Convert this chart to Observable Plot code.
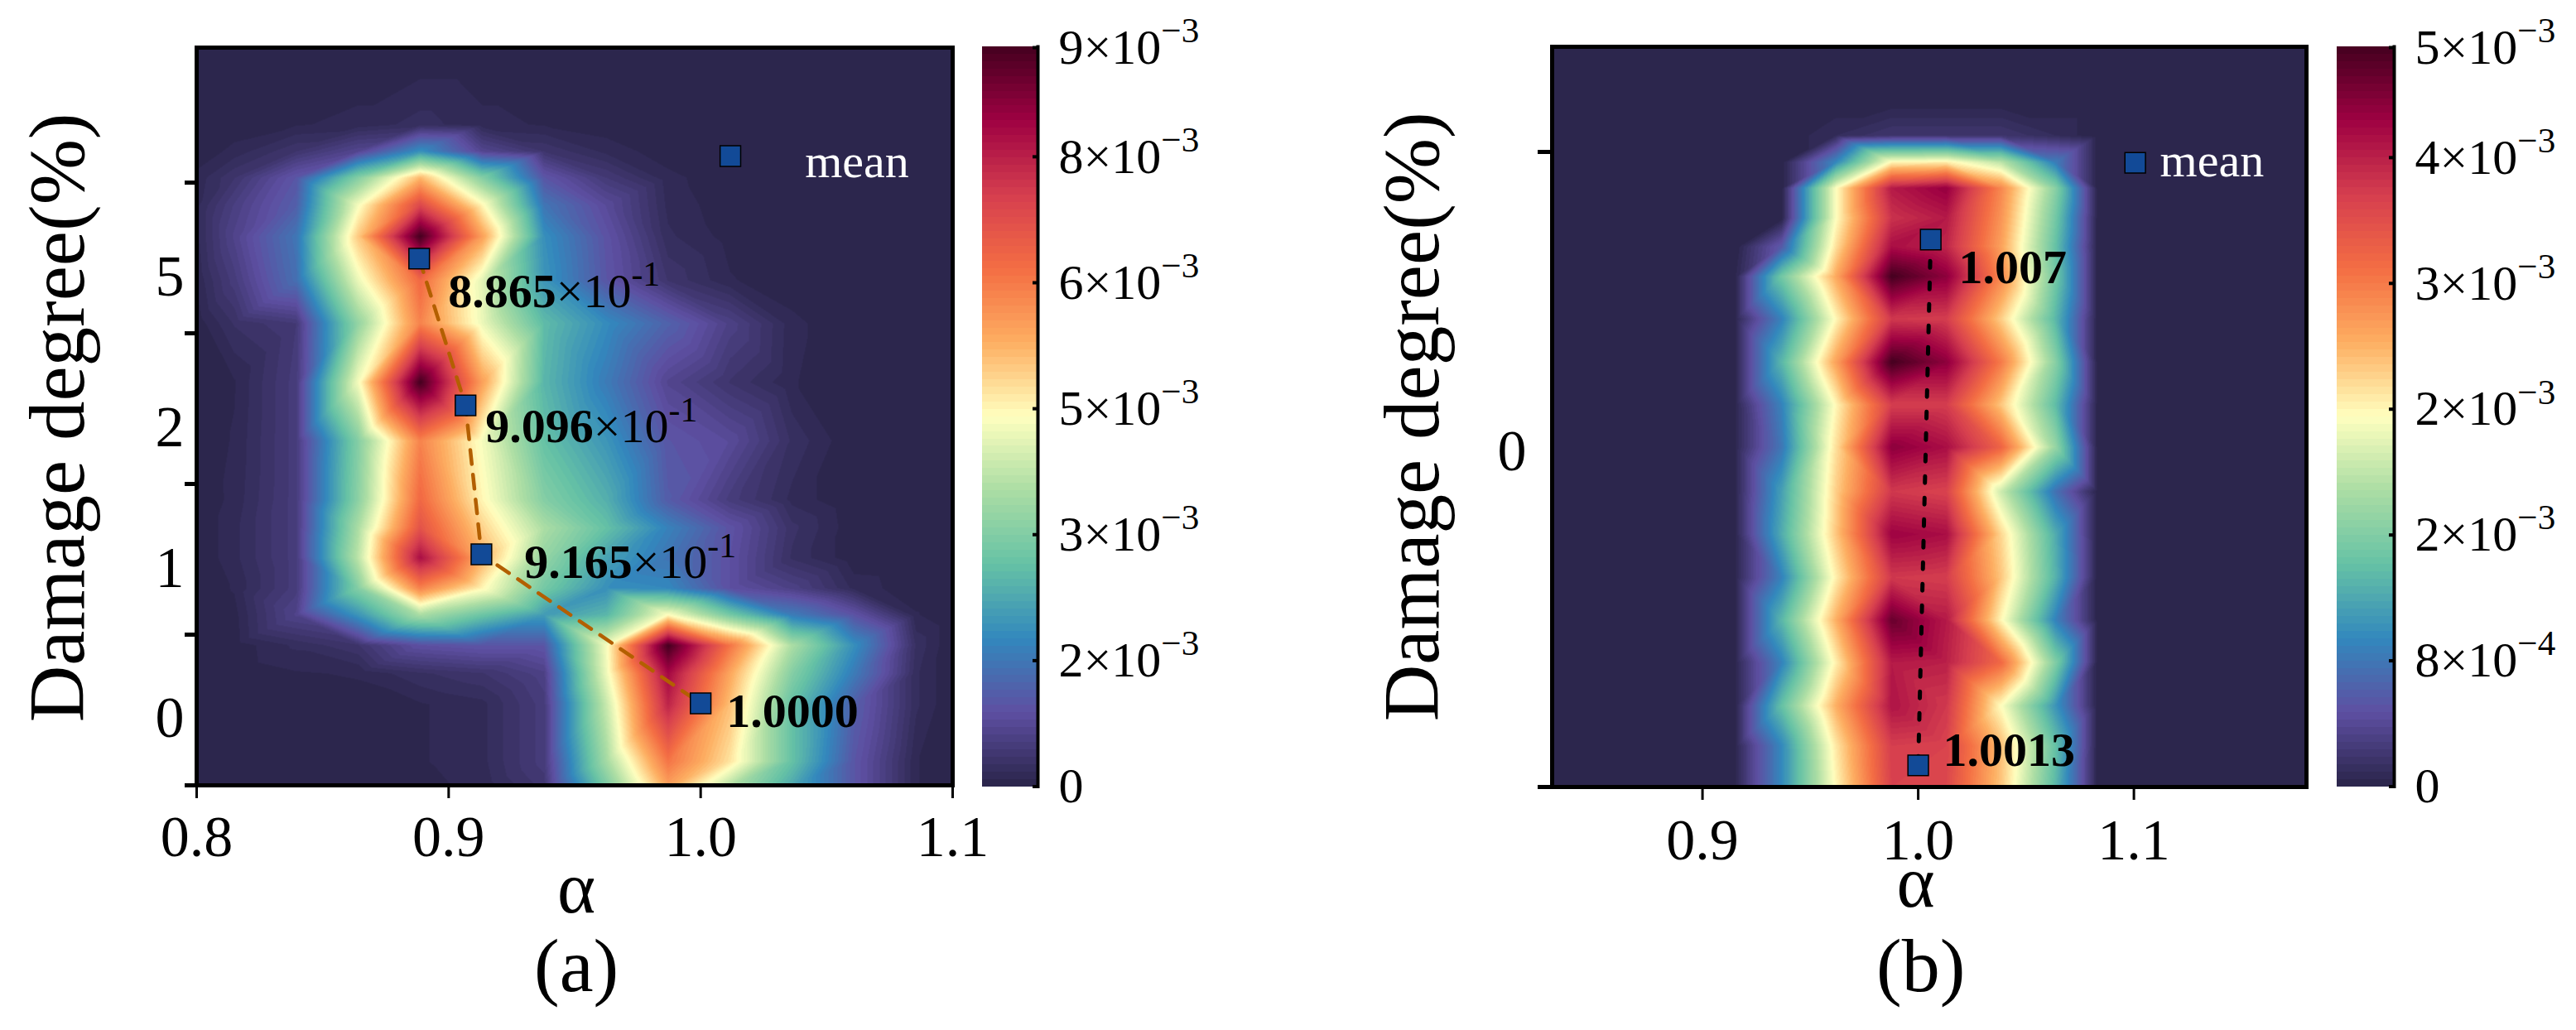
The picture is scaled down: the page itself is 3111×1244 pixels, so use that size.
<!DOCTYPE html>
<html>
<head>
<meta charset="utf-8">
<script src="https://cdn.jsdelivr.net/npm/d3@7"></script>
<script src="https://cdn.jsdelivr.net/npm/@observablehq/plot@0.6"></script>
<style>
html,body{margin:0;padding:0;background:#fff;width:3111px;height:1244px;overflow:hidden}
svg{position:absolute;top:0;overflow:visible;font-family:"Liberation Serif",serif}
</style>
</head>
<body>
<script>
// ---------- panel (a): density ----------
const alphaA = [.8,.8149,.8395,.8641,.8887,.9133,.9379,.9625,.9871,1.0117,1.0363,1.0609,1.0855,1.1];
const levelA = [4.896,4.385,4.209,4.033,3.852,3.643,3.352,3.066,2.676,2.286,1.896,1.709,1.511,1.308,1.132,.929,.742,.538,.159,0];
const densityA = [
 [0,0,0,0,0,0,0,0,0,0,0,0,0,0],
 [0,.03,.08,.12,.22,.12,.08,.03,0,0,0,0,0,0],
 [.02,.12,.35,.7,1.9,.7,.35,.15,.03,0,0,0,0,0],
 [.12,.35,1.0,3.1,5.3,3.1,1.0,.45,.12,.02,0,0,0,0],
 [.15,.55,1.15,4.4,7.0,4.6,1.5,.8,.15,.03,0,0,0,0],
 [.15,.65,1.5,5.1,9.0,5.6,1.9,.95,.2,.05,0,0,0,0],
 [.1,.5,1.4,4.3,6.4,4.2,2.0,1.0,.35,.1,.02,0,0,0],
 [.03,.28,.45,3.3,6.0,4.3,2.6,1.85,1.2,.6,.12,0,0,0],
 [.02,.08,.5,4.4,9.0,5.6,2.5,1.6,.7,.35,.1,0,0,0],
 [.02,.1,.5,3.1,6.0,4.4,2.7,2.0,1.0,.8,.25,0,0,0],
 [.01,.12,.5,3.2,6.4,4.6,3.1,2.4,1.1,.5,.15,0,0,0],
 [.01,.15,.5,3.6,6.8,5.0,3.6,2.7,1.7,.95,.3,.02,0,0],
 [.01,.15,.5,3.8,7.9,5.4,3.3,2.2,1.5,.9,.25,.02,0,0],
 [.01,.1,.5,3.1,6.0,4.6,2.9,1.9,1.8,.9,.6,.15,.02,0],
 [0,.05,.65,2.0,3.6,2.8,2.1,2.5,4.5,2.9,1.6,.95,.1,0],
 [0,.03,.2,.35,.9,1.0,1.0,4.4,9.0,6.2,3.6,1.9,.25,0],
 [0,.02,.08,.1,.25,.35,.6,4.3,8.0,5.5,3.1,1.6,.2,0],
 [0,.01,.03,.05,.08,.15,.5,3.9,7.6,5.2,2.7,1.15,.2,0],
 [0,0,.01,.03,.08,.15,.5,3.5,6.2,4.8,2.7,1.0,.1,0],
 [0,0,.01,.03,.06,.12,.4,3.0,5.6,3.7,2.3,1.0,.1,0]
];
const meansA = [{a:.8883,l:3.495},{a:.9067,l:2.522},{a:.913,l:1.533},{a:1.0,l:.544}];
const legendA = [{a:1.0118,l:4.176}];
const notesA = [
 {a:.8998,l:3.176,t:"8.865|×10^-1"},
 {a:.9146,l:2.275,t:"9.096|×10^-1"},
 {a:.93,l:1.374,t:"9.165|×10^-1"},
 {a:1.0102,l:.39,t:"1.0000|"}
];
const meanLabelA = [{a:1.0414,l:4.038,t:"mean"}];
const yTicksA = [0,1,2,3,4];
const yLabelsA = [{l:.445,t:"0"},{l:1.44,t:"1"},{l:2.374,t:"2"},{l:3.374,t:"5"}];
const xTicksA = [.8,.9,1.0,1.1];
const barMaxA = 8.81;
const barTicksA = [0,1.5,3,4.5,6,7.5,8.8];
const barLabelsA = ["0","2×10^−3","3×10^−3","5×10^−3","6×10^−3","8×10^−3","9×10^−3"];

// ---------- panel (b) ----------
const alphaB = [.8303,.9155,.9367,.962,.9877,1.0131,1.0384,1.0637,1.0833,1.18];
const levelB = [1.166,1.082,1.026,.984,.943,.896,.851,.804,.737,.669,.602,.535,.465,.398,.33,.263,.196,.128,.065,0];
const densityB = [
 [0,0,0,0,0,0,0,0,0,0],
 [0,0,0,0,0,0,0,0,0,0],
 [0,0,0,.1,.2,.2,.2,.1,0,0],
 [0,0,0,1.0,2.55,2.6,2.1,.9,0,0],
 [0,0,0,2.5,4.3,4.55,3.3,1.75,0,0],
 [0,0,0,2.5,4.1,4.3,3.2,1.6,0,0],
 [0,0,.6,2.7,4.4,4.2,3.1,1.5,0,0],
 [0,.05,1.6,3.05,5.0,4.6,3.3,1.6,0,0],
 [0,.05,.95,2.55,4.05,4.0,2.8,1.4,0,0],
 [0,.05,1.4,3.1,5.0,4.6,3.4,1.75,0,0],
 [0,.05,.95,2.55,4.0,4.0,2.85,1.45,0,0],
 [0,.05,.85,2.7,4.6,4.4,3.6,1.85,0,0],
 [0,.05,1.2,2.8,4.05,3.95,2.2,.8,0,0],
 [0,.05,1.3,2.85,4.5,4.4,2.75,1.3,0,0],
 [0,.05,.95,2.6,4.05,4.0,2.85,1.35,0,0],
 [0,.05,1.4,3.0,4.8,4.3,2.55,.95,0,0],
 [0,.05,.95,2.6,4.3,4.25,3.55,1.7,0,0],
 [0,.05,1.5,3.0,4.35,4.05,2.5,1.1,0,0],
 [0,.05,1.0,2.65,4.0,3.95,2.9,1.5,0,0],
 [0,.05,1.0,2.55,3.95,3.9,2.85,1.4,0,0]
];
const meansB = [{a:1.0058,l:.862},{a:1.0,l:.034}];
const legendB = [{a:1.1006,l:.983}];
const notesB = [
 {a:1.0188,l:.794,t:"1.007|"},
 {a:1.0115,l:.033,t:"1.0013|"}
];
const meanLabelB = [{a:1.1121,l:.961,t:"mean"}];
const yTicksB = [0,1];
const yLabelsB = [{l:.528,t:"0"}];
const xTicksB = [.9,1.0,1.1];
const barMaxB = 4.705;
const barTicksB = [0,.8,1.6,2.4,3.2,4,4.7];
const barLabelsB = ["0","8×10^−4","2×10^−3","2×10^−3","3×10^−3","4×10^−3","5×10^−3"];

// ---------- shared colour ramp ----------
const rampColors = ["#292448","#5e4fa2","#3288bd","#66c2a5","#abdda4","#ffffbf","#fdae61","#f46d43","#d53e4f","#9e0142","#44001f"];
const ramp = d3.piecewise(d3.interpolateRgb, rampColors);
const bandCount = 100;
function colorScale(max){
  return {type:"threshold",
    domain:d3.range(1,bandCount).map(i=>i*max/bandCount),
    range:d3.range(bandCount).map(i=>ramp((i+.5)/bandCount))};
}
function table(alpha,level,grid,factor){
  const out=[];
  level.forEach((l,r)=>alpha.forEach((a,c)=>out.push({a,l,v:grid[r][c]*factor})));
  return out;
}
function richText(svg){
  svg.querySelectorAll("text").forEach(t=>{
    if(t.querySelector("tspan")&&t.children.length>1) return;
    const s=t.textContent;
    if(!s.includes("^")&&!s.includes("|")) return;
    let bold="",rest=s;
    if(s.includes("|")) [bold,rest]=s.split("|");
    const [main,sup]=rest.split("^");
    const keep=t.querySelector("tspan")||t;
    keep.textContent="";
    const add=(txt,attrs)=>{
      if(!txt) return;
      const n=document.createElementNS("http://www.w3.org/2000/svg","tspan");
      n.textContent=txt;
      Object.entries(attrs).forEach(([k,v])=>n.setAttribute(k,v));
      keep.appendChild(n);
    };
    add(bold,{"font-weight":"bold"});
    add(main,{});
    add(sup,{"font-size":"72%",dy:"-0.6em"});
  });
  return svg;
}
function place(svg,left){svg.style.left=left+"px";document.body.appendChild(richText(svg));}

const serif={fontFamily:"'Liberation Serif',serif",background:"transparent",overflow:"visible"};

function panel(o){
  return Plot.plot({
    width:o.width,height:1244,marginLeft:o.ml,marginRight:o.mr,marginTop:o.mt,marginBottom:o.mb,
    style:serif,
    x:{domain:o.xd,label:null},
    y:{domain:o.yd,label:null},
    color:colorScale(o.max),
    marks:[
      Plot.raster(table(o.alpha,o.level,o.grid,o.max/o.full),{x:"a",y:"l",fill:"v",interpolate:"barycentric",pixelSize:1}),
      Plot.line(o.means,{x:"a",y:"l",stroke:o.lineColor,strokeWidth:o.lineWidth,strokeDasharray:o.dash}),
      Plot.dot(o.means.concat(o.legend),{x:"a",y:"l",symbol:"square",r:14,fill:"#124a97",stroke:"#000",strokeWidth:1.5}),
      Plot.text(o.notes,{x:"a",y:"l",text:"t",textAnchor:"start",lineAnchor:"bottom",fontSize:58,fill:"#000"}),
      Plot.text(o.meanLabel,{x:"a",y:"l",text:"t",textAnchor:"start",lineAnchor:"bottom",fontSize:58,fill:"#fff"}),
      Plot.frame({stroke:"#000",strokeWidth:5}),
      Plot.axisX({ticks:o.xTicks,tickFormat:d=>d.toFixed(1),tickSize:16,tickPadding:o.xPad,fontSize:70,strokeWidth:3,label:null}),
      Plot.axisY({ticks:o.yTicks,tickFormat:()=>"",tickSize:o.ySize,strokeWidth:5,label:null}),
      Plot.text(o.yLabels,{y:"l",text:"t",frameAnchor:"left",textAnchor:"end",dx:-o.yDx,fontSize:70,lineAnchor:"middle"}),
      Plot.text(o.titles,{x:"a",y:"l",text:"t",rotate:"r",textAnchor:"middle",lineAnchor:"bottom",fontSize:"f"})
    ]
  });
}

place(panel({
  width:1170,ml:237,mr:20,mt:57,mb:296,xd:[.8,1.1],yd:[0,4.896],
  alpha:alphaA,level:levelA,grid:densityA,max:barMaxA,full:9,
  means:meansA,legend:legendA,notes:notesA,meanLabel:meanLabelA,
  lineColor:"#b35f00",lineWidth:4.5,dash:"17,13",
  xTicks:xTicksA,yTicks:yTicksA,yLabels:yLabelsA,ySize:14,yDx:15,xPad:20,
  titles:[
    {a:.755,l:2.44,t:"Damage degree(%)",r:-90,f:95},
    {a:.9507,l:-.846,t:"α",r:0,f:88},
    {a:.9507,l:-1.368,t:"(a)",r:0,f:92}
  ]
}),0);

place(panel({
  width:1170,ml:234,mr:25,mt:56,mb:294,xd:[.8303,1.18],yd:[0,1.1656],
  alpha:alphaB,level:levelB,grid:densityB,max:barMaxB,full:5,
  means:meansB,legend:legendB,notes:notesB,meanLabel:meanLabelB,
  lineColor:"#000",lineWidth:5,dash:"8,18",
  xTicks:xTicksB,yTicks:yTicksB,yLabels:yLabelsB,ySize:17,yDx:31,xPad:22,
  titles:[
    {a:.7774,l:.583,t:"Damage degree(%)",r:-90,f:95},
    {a:.9988,l:-.188,t:"α",r:0,f:88},
    {a:1.0012,l:-.321,t:"(b)",r:0,f:92}
  ]
}),1640);

function colorbar(max,ticks,labels,w){
  const names=new Map(ticks.map((d,i)=>[d,labels[i]]));
  const bands=d3.range(bandCount);
  return Plot.plot({
    width:w+220,height:1244,marginLeft:0,marginRight:220,marginTop:56,marginBottom:294.5,
    style:serif,
    y:{domain:[0,max],label:null},
    color:colorScale(max),
    marks:[
      Plot.rect(bands,{y1:i=>i*max/bandCount,y2:i=>(i+1)*max/bandCount,fill:i=>(i+.5)*max/bandCount,shapeRendering:"crispEdges"}),
      Plot.tickY(ticks,{y:d=>d,insetLeft:w-6,stroke:"#000",strokeWidth:4}),
      Plot.frame({anchor:"right",stroke:"#000",strokeWidth:4}),
      Plot.axisY({anchor:"right",ticks,tickFormat:d=>names.get(d),tickSize:0,tickPadding:25,fontSize:60,label:null})
    ]
  });
}
place(colorbar(barMaxA,barTicksA,barLabelsA,67),1186);
place(colorbar(barMaxB,barTicksB,barLabelsB,69),2822);
</script>
</body>
</html>
